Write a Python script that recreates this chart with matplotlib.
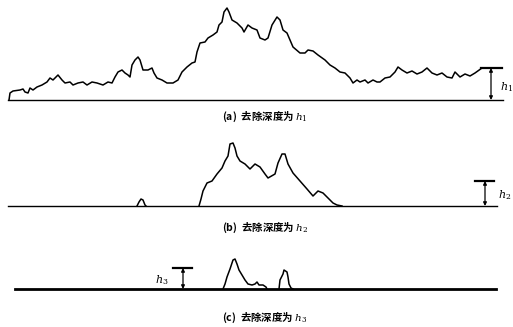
import matplotlib
matplotlib.use("Agg")
import matplotlib.pyplot as plt

plt.rcParams['font.family'] = ['Noto Sans CJK SC', 'DejaVu Sans']
plt.rcParams['mathtext.fontset'] = 'dejavuserif'

# ---- data: surface profiles (x position, height above reference line) ----
a_x = [9, 10, 13, 20, 23, 25, 28, 30, 33, 37, 42, 47, 50, 53, 58, 62, 65, 70, 73, 78,
       83, 87, 92, 97, 103, 108, 112, 115, 118, 122, 125, 128, 130, 132, 135, 138, 140,
       143, 148, 152, 154, 157, 162, 167, 173, 178, 182, 187, 192, 195, 197, 200, 205,
       208, 213, 217, 219, 222, 224, 227, 229, 232, 237, 242, 244, 248, 252, 257, 260,
       265, 268, 272, 277, 280, 283, 287, 290, 293, 300, 305, 308, 313, 318, 325, 330,
       335, 340, 345, 350, 353, 357, 360, 365, 368, 373, 377, 380, 385, 390, 395, 398,
       402, 407, 412, 417, 422, 427, 432, 437, 442, 447, 452, 455, 460, 465, 470, 475, 482]
a_h = [0, 7, 9, 10, 11, 8, 7, 12, 10, 13, 15, 18, 22, 20, 25, 20, 17, 18, 15, 17,
       18, 15, 18, 17, 15, 18, 17, 23, 28, 30, 27, 25, 23, 35, 40, 43, 40,
       30, 30, 32, 27, 22, 20, 17, 17, 20, 28, 33, 37, 38, 48, 57, 58,
       62, 65, 68, 75, 78, 88, 92, 88, 80, 77, 72, 68, 75, 72, 70, 62,
       60, 62, 75, 83, 80, 70, 67, 60, 53, 47, 47, 50, 49, 45, 40, 35,
       32, 28, 27, 22, 17, 20, 18, 20, 17, 20, 18, 18, 22, 23, 28, 33,
       30, 27, 29, 26, 28, 32, 27, 25, 27, 23, 22, 28, 23, 26, 24, 27, 32]

b1_x = [137, 139, 141, 143, 145, 146]
b1_h = [0, 4, 7, 6, 1, 0]
b_x = [199, 201, 203, 207, 212, 217, 222, 225, 228, 230, 233, 235, 237, 240, 245, 250,
       255, 260, 265, 268, 275, 278, 282, 285, 288, 293, 300, 307, 313, 318, 323, 328,
       333, 337, 342]
b_h = [0, 7, 15, 23, 25, 32, 38, 45, 50, 62, 63, 58, 50, 45, 42, 37,
       42, 39, 32, 28, 32, 43, 52, 52, 42, 33, 25, 17, 10, 15, 13, 8,
       3, 1, 0]

c1_x = [223, 225, 227, 230, 233, 235, 237, 239, 242, 245, 248, 252, 255, 257, 259, 263, 266, 267]
c1_h = [0, 5, 12, 20, 29, 30, 25, 19, 14, 9, 5, 4, 5, 7, 4, 4, 2, 0]
c2_x = [279, 280, 283, 284, 287, 288, 289, 291, 293]
c2_h = [0, 9, 15, 19, 17, 12, 5, 1, 0]

captions = ["(a)  去除深度为 ", "(b)  去除深度为 ", "(c)  去除深度为 "]
h_labels = ["$h_1$", "$h_2$", "$h_3$"]

# ---- figure ----
fig = plt.figure(figsize=(5.13, 3.27), dpi=100)
ax = fig.add_axes([0, 0, 1, 1])
ax.set_xlim(0, 513)
ax.set_ylim(327, 0)
ax.axis('off')

base_a, base_b, base_c = 100, 206, 289
lw_prof = 1.1

# panel a
ax.plot([8, 503], [base_a, base_a], color='black', lw=1.0)
ax.plot(a_x, [base_a - v for v in a_h], color='black', lw=lw_prof)
top_a = base_a - a_h[-1]
ax.plot([481, 502], [top_a, top_a], color='black', lw=1.6)
ax.annotate('', xy=(491, top_a), xytext=(491, base_a),
            arrowprops=dict(arrowstyle='<|-|>', lw=0.9, color='black',
                            mutation_scale=5, shrinkA=0, shrinkB=0))
ax.text(500, 87, h_labels[0], fontsize=8, ha='left', va='center', fontweight='bold')

# panel b
ax.plot([8, 497], [base_b, base_b], color='black', lw=1.0)
ax.plot(b1_x, [base_b - v for v in b1_h], color='black', lw=lw_prof)
ax.plot(b_x, [base_b - v for v in b_h], color='black', lw=lw_prof)
top_b = 181
ax.plot([475, 494], [top_b, top_b], color='black', lw=1.6)
ax.annotate('', xy=(485, top_b), xytext=(485, base_b),
            arrowprops=dict(arrowstyle='<|-|>', lw=0.9, color='black',
                            mutation_scale=5, shrinkA=0, shrinkB=0))
ax.text(498, 195, h_labels[1], fontsize=8, ha='left', va='center', fontweight='bold')

# panel c
ax.plot([15, 496], [base_c, base_c], color='black', lw=2.0)
ax.plot(c1_x, [base_c - v for v in c1_h], color='black', lw=lw_prof)
ax.plot(c2_x, [base_c - v for v in c2_h], color='black', lw=lw_prof)
top_c = 268
ax.plot([173, 192], [top_c, top_c], color='black', lw=1.6)
ax.annotate('', xy=(183, top_c), xytext=(183, base_c),
            arrowprops=dict(arrowstyle='<|-|>', lw=0.9, color='black',
                            mutation_scale=5, shrinkA=0, shrinkB=0))
ax.text(162, 280, h_labels[2], fontsize=8, ha='center', va='center', fontweight='bold')

# captions
for cap, hl, yc in zip(captions, h_labels, [117, 228, 318]):
    ax.text(265, yc, cap + hl, fontsize=7.5, ha='center', va='center',
            fontweight='bold')

fig.savefig("out.png", dpi=100)
